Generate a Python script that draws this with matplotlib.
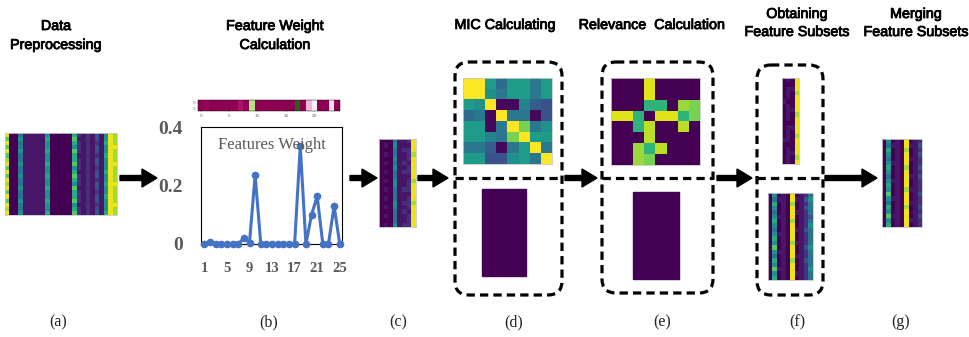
import numpy as np
import matplotlib
matplotlib.use("Agg")
import matplotlib.pyplot as plt
import matplotlib.patheffects as pe
from matplotlib.patches import FancyArrow, FancyBboxPatch, Rectangle

# ---------------- data ----------------
feature_idx = list(range(1, 26))
feature_weights = [0, 0.007, 0, 0, 0, 0, 0, 0.02, 0.005, 0.235, 0, 0, 0, 0, 0,
                   0, 0, 0.335, 0, 0.10, 0.163, 0, 0, 0.13, 0]
weight_yticks = [0, 0.2, 0.4]
weight_ytick_labels = ["0", "0.2", "0.4"]
weight_xticks = [1, 5, 9, 13, 17, 21, 25]
strip_xticks = [0, 5, 10, 15, 20]

# heatmaps as digit strings; each digit is a level of the colour scale below
digit_levels = [0.0, 0.06, 0.14, 0.25, 0.38, 0.50, 0.62, 0.74, 0.86, 0.97]
raw_data_rows = [
    "9004111115000006212131598",
    "7005111116000007112131598",
    "9004111115000006212121698",
    "7004111115000005212131599",
    "9005111116000007212131598",
    "7004111115000006112121698",
    "8004111115000006212131598",
    "9005111116000007212131599",
    "7004111115000005212121598",
    "9004111115000006112131698",
    "7005111116000007212131598",
    "9004111115000006212121598",
    "8004111115000005212131699",
    "9005111116000007112131598",
    "7004111115000006212121598",
    "9004111115000006212131698",
    "7005111116000007212131598",
    "9004111115000005112121599",
    "8004111115000006212131598",
    "9005111116000007212131698",
]
weighted_rows = [
    "00041129", "01051119", "00041229", "01041128", "00051129",
    "01041219", "00051129", "01041229", "00041119", "01051128",
    "00051129", "01041229", "00041119", "01041129", "00051228",
    "01051129", "00041219", "01041129", "00041129", "01051229",
]
subset_top_rows = [
    "0109", "0009", "0119", "0108", "0109", "1009", "0109", "0119", "0108", "0109",
    "0009", "0119", "0109", "0108", "1109", "0009", "0109", "0119", "0108", "0109",
]
subset_bottom_rows = [
    "0501090124", "0411091135", "0601080124", "0501090134", "0401091124",
    "0511090123", "0601080124", "0501090125", "0401091134", "0511090124",
    "0601090124", "0501081124", "0701090135", "0511090124", "0401091124",
    "0601080134", "0501090124", "0711090125", "0501091124", "0601090124",
]
merged_rows = [
    "050109012", "041109113", "060108012", "050109013", "040109112",
    "051109012", "060108013", "050109012", "040109113", "051109012",
    "060109012", "050108112", "070109013", "051109012", "040109112",
    "060108013", "050109012", "071109013", "050109112", "060109012",
]
mic_matrix = [
    [1.00, 1.00, 0.55, 0.35, 0.55, 0.55, 0.40, 0.55],
    [1.00, 1.00, 0.50, 0.40, 0.55, 0.55, 0.40, 0.55],
    [0.55, 0.50, 1.00, 0.02, 0.02, 0.45, 0.30, 0.25],
    [0.35, 0.40, 0.02, 1.00, 0.40, 0.40, 0.02, 0.25],
    [0.55, 0.55, 0.02, 0.40, 1.00, 0.80, 0.40, 0.50],
    [0.55, 0.55, 0.45, 0.40, 0.80, 1.00, 0.55, 0.55],
    [0.40, 0.40, 0.30, 0.02, 0.40, 0.55, 1.00, 0.40],
    [0.55, 0.55, 0.25, 0.25, 0.50, 0.55, 0.40, 1.00],
]
relevance_matrix = [
    [0, 0, 0, 0.95, 0, 0, 0, 0],
    [0, 0, 0, 0.95, 0, 0, 0, 0],
    [0, 0, 0, 0.65, 0.65, 0, 0.85, 0.80],
    [0.95, 0.95, 0.65, 0, 0.95, 0.95, 0.65, 0.80],
    [0, 0, 0.65, 0.90, 0, 0, 0.90, 0],
    [0, 0, 0, 0.90, 0, 0, 0, 0],
    [0, 0, 0.85, 0.65, 0.90, 0, 0, 0],
    [0, 0, 0.85, 0.80, 0, 0, 0, 0],
]
step_titles = [["Data", "Preprocessing"], ["Feature Weight", "Calculation"],
               ["MIC Calculating"], ["Relevance  Calculation"],
               ["Obtaining", "Feature Subsets"], ["Merging", "Feature Subsets"]]
panel_labels = ["(a)", "(b)", "(c)", "(d)", "(e)", "(f)", "(g)"]


def digits(rows):
    return np.array([[digit_levels[int(c)] for c in r] for r in rows], dtype=float)


# ---------------- figure ----------------
W, H = 970, 337
fig = plt.figure(figsize=(W / 100, H / 100), dpi=100)
ax = fig.add_axes([0, 0, 1, 1])
ax.set_xlim(0, W)
ax.set_ylim(H, 0)
ax.axis("off")

sans = "Liberation Sans"
serif = "Liberation Serif"


def heat(mat, x0, x1, y0, y1, border=True):
    ax.imshow(mat, cmap="viridis", vmin=0, vmax=1, extent=(x0, x1, y1, y0),
              aspect="auto", interpolation="nearest", zorder=2)
    if border:
        ax.add_patch(Rectangle((x0, y0), x1 - x0, y1 - y0, fill=False,
                               ec="#c8c8c8", lw=0.6, zorder=3))


heat(digits(raw_data_rows), 5, 117, 133, 215)
heat(digits(weighted_rows), 379, 416, 139, 227)
heat(np.array(mic_matrix), 463, 552, 78, 164)
heat(np.array(relevance_matrix), 611, 700, 78, 165)
heat(digits(subset_top_rows), 782, 799, 78, 164)
heat(digits(subset_bottom_rows), 768, 813, 193, 280)
heat(digits(merged_rows), 882, 922, 139, 227)

dark = plt.get_cmap("viridis")(0.0)
ax.add_patch(Rectangle((482, 189), 44, 87, color=dark, zorder=2))
ax.add_patch(Rectangle((633, 192), 46, 87, color=dark, zorder=2))

# dashed rounded boxes
dash = (0, (2.6, 1.6))
for (x0, x1, y0, y1) in [(455, 562, 62, 295), (602, 713, 62, 293), (757, 823, 65, 295)]:
    ax.add_patch(FancyBboxPatch((x0, y0), x1 - x0, y1 - y0,
                                boxstyle="round,pad=0,rounding_size=14",
                                fill=False, ec="black", lw=2.3, ls=dash, zorder=4))
    ax.plot([x0, x1], [178, 178], color="black", lw=2.3, ls=dash, zorder=4)

# arrows
for (xa, xb) in [(120, 157), (350, 377), (418, 448), (565, 597), (717, 752), (825, 877)]:
    ax.add_patch(FancyArrow(xa, 178, xb - xa, 0, width=5, head_width=18,
                            head_length=15, length_includes_head=True,
                            color="black", zorder=5))

# titles
title_pos = [(56, [26, 45]), (275, [26, 45]), (505, [25]), (652, [25]),
             (797, [14, 32]), (916, [14, 32])]
thick = [pe.withStroke(linewidth=0.6, foreground="black")]
for (cx, ys), lines in zip(title_pos, step_titles):
    for y, s in zip(ys, lines):
        ax.text(cx, y, s, ha="center", va="center", fontsize=10.3,
                family=sans, color="black", path_effects=thick)

# panel labels
for x, s in zip([58, 269, 398, 514, 662, 797, 901], panel_labels):
    ax.text(x, 322, s, ha="center", va="center", fontsize=11.5,
            family=serif, color="#222222")

# ---------------- feature weight line plot ----------------
lw_ax = fig.add_axes([201 / W, 1 - 244 / H, 141 / W, 117 / H])
lw_ax.plot(feature_idx, feature_weights, color="#4472C4", lw=2.2,
           marker="o", ms=4.5, clip_on=False, zorder=3)
lw_ax.set_xlim(0.4, 25.4)
lw_ax.set_ylim(0, 0.4)
lw_ax.set_yticks(weight_yticks)
lw_ax.set_yticklabels(weight_ytick_labels)
lw_ax.set_xticks(weight_xticks)
lw_ax.tick_params(axis="both", length=0, colors="#595959")
lw_ax.tick_params(axis="y", pad=13, labelsize=14)
lw_ax.tick_params(axis="x", pad=13, labelsize=10.5)
for lab in lw_ax.get_xticklabels() + lw_ax.get_yticklabels():
    lab.set_family(serif)
    lab.set_fontweight("bold")
for sp in lw_ax.spines.values():
    sp.set_linewidth(0.8)
    sp.set_color("black")
lw_ax.text(0.5, 0.846, "Features Weight", transform=lw_ax.transAxes,
           ha="center", va="center", fontsize=12, family=serif, color="#595959")

# ---------------- weight strip ----------------
st_ax = fig.add_axes([198 / W, 1 - 111 / H, 142 / W, 11 / H])
st_ax.imshow(np.array([feature_weights, feature_weights]), cmap="PiYG",
             vmin=0, vmax=max(feature_weights), aspect="auto", interpolation="nearest")
st_ax.set_xticks(strip_xticks)
st_ax.set_yticks([0, 1])
st_ax.tick_params(labelsize=3, length=1, width=0.3, pad=1, colors="#666666")
for sp in st_ax.spines.values():
    sp.set_linewidth(0.3)

fig.savefig("out.png", dpi=100)
